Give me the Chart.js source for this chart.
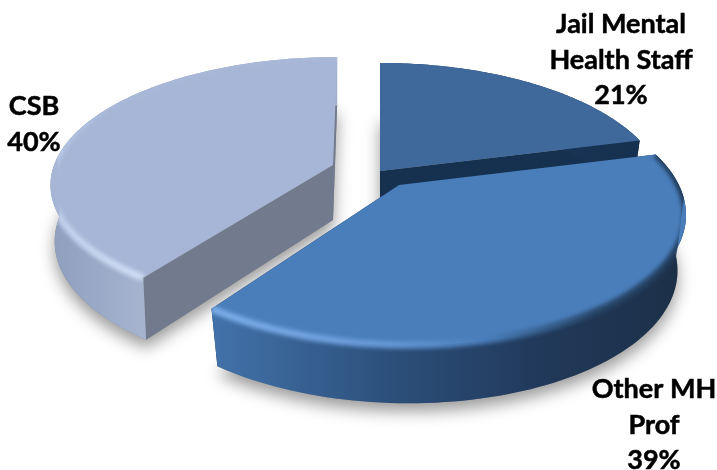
<!DOCTYPE html>
<html>
<head>
<meta charset="utf-8">
<script src="https://cdn.jsdelivr.net/npm/chart.js@4"></script>
<style>
  html, body { margin: 0; padding: 0; background: #fff; }
  #wrap { width: 717px; height: 470px; }
</style>
</head>
<body>
<div id="wrap"><canvas id="graficoStaff"></canvas></div>
<script>
const categories = ['Jail Mental Health Staff', 'Other MH Prof', 'CSB'];
const shares = [21, 39, 40];
const labelLines = [['Jail Mental', 'Health Staff'], ['Other MH', 'Prof'], ['CSB']];

// Label anchors, one per slice (centre x, first baseline y)
const labelSpots = [
  { x: 621, y: 33 },
  { x: 654, y: 398 },
  { x: 34, y: 115 }
];
const lineGap = 35.5;

// How each flat slice is laid back into perspective. dx/dy move the tip away
// from the pie centre, xs/ys scale the radius, q is the foreshortening, skew leans it.
const sliceViews = [
  { dx: 21.5, dy: -64, xs: 1.196, ys: 0.549, q: 0.194, skew: 0, depth: 55, lowX: 0.97, lowY: 1.02 },
  { dx: 40.5, dy: -50, xs: 1.191, ys: 0.549, q: 0.194, skew: 0.034, depth: 55, lowX: 0.97, lowY: 1.02 },
  { dx: -25.5, dy: -70, xs: 1.187, ys: 0.525, q: 0.143, skew: -0.02, depth: 55, lowX: 0.985, lowY: 1.06 }
];

const topColors = ['#3f689b', '#4a7ebb', '#a7b6d6'];
const cutColors = ['#16304f', '#16304f', '#727b8e'];
const wallStops = [
  [[380, '#1c3a5e'], [640, '#16304f']],
  [[213, '#4272aa'], [400, '#2b4e78'], [540, '#21395a'], [686, '#1c2f47']],
  [[50, '#8e9ebd'], [140, '#a5b3cf']]
];
// Bevel along the rim, stops by screen angle around the slice tip (turns, clockwise from east)
const rimStops = [
  null,
  [[0, '#1e3755'], [0.09, '#274668'], [0.17, '#4a7ebb'], [0.25, '#6596d6'], [0.41, '#7fb0ec'], [0.96, '#2a4a74'], [1, '#1e3755']],
  [[0, '#a7b6d6'], [0.41, '#d2dff6'], [0.49, '#bccce9'], [0.54, '#a9b8d8'], [1, '#a9b8d8']]
];

function project(arc, view, angle, lower) {
  const x = arc.outerRadius * Math.cos(angle);
  const y = arc.outerRadius * Math.sin(angle);
  const d = 1 - view.q * Math.sin(angle);
  const xs = lower ? view.xs * view.lowX : view.xs;
  const ys = lower ? view.ys * view.lowY : view.ys;
  return [
    arc.x + view.dx + (xs * x + view.skew * y) / d,
    arc.y + view.dy + (lower ? view.depth : 0) + ys * y / d
  ];
}

function tip(arc, view, lower) {
  return [arc.x + view.dx, arc.y + view.dy + (lower ? view.depth : 0)];
}

function rimPoints(arc, view, lower) {
  const pts = [];
  const steps = 90;
  for (let i = 0; i <= steps; i++) {
    const a = arc.startAngle + (arc.endAngle - arc.startAngle) * i / steps;
    pts.push(project(arc, view, a, lower));
  }
  return pts;
}

function trace(ctx, pts, closed) {
  ctx.beginPath();
  pts.forEach((p, i) => (i ? ctx.lineTo(p[0], p[1]) : ctx.moveTo(p[0], p[1])));
  if (closed) ctx.closePath();
}

// Outline of top face plus wall, walking round the tip
function silhouette(tipTop, top, low) {
  const dist = (p) => Math.hypot(p[0] - tipTop[0], p[1] - tipTop[1]);
  const outer = top.map((p, i) => (dist(low[i]) > dist(p) ? low[i] : p));
  return [tipTop, top[0]].concat(outer, [top[top.length - 1]]);
}

const pie3d = {
  id: 'pie3d',
  // The arcs keep their geometry from the pie controller, only the painting changes
  beforeDatasetDraw(chart) {
    const ctx = chart.ctx;
    const arcs = chart.getDatasetMeta(0).data;

    // soft shadow on the ground under every slice
    arcs.forEach((arc, i) => {
      const view = sliceViews[i];
      ctx.save();
      ctx.shadowColor = 'rgba(0,0,0,0.4)';
      ctx.shadowBlur = 16;
      ctx.shadowOffsetY = 8;
      ctx.fillStyle = '#888';
      trace(ctx, [tip(arc, view, true)].concat(rimPoints(arc, view, true)), true);
      ctx.fill();
      ctx.restore();
    });

    // back to front: Jail, CSB, Other
    [0, 2, 1].forEach((i) => {
      const arc = arcs[i];
      const view = sliceViews[i];
      const top = rimPoints(arc, view, false);
      const low = rimPoints(arc, view, true);
      const tipTop = tip(arc, view, false);
      const tipLow = tip(arc, view, true);

      // cut faces
      ctx.fillStyle = cutColors[i];
      trace(ctx, [tipTop, top[0], low[0], tipLow], true);
      ctx.fill();
      trace(ctx, [tipTop, top[top.length - 1], low[low.length - 1], tipLow], true);
      ctx.fill();

      // outer wall
      const g = ctx.createLinearGradient(0, 0, 717, 0);
      wallStops[i].forEach((s) => g.addColorStop(s[0] / 717, s[1]));
      ctx.fillStyle = g;
      trace(ctx, top.concat(low.slice().reverse()), true);
      ctx.fill();

      // top face
      ctx.fillStyle = topColors[i];
      trace(ctx, [tipTop].concat(top), true);
      ctx.fill();

      // bevel, kept inside the slice outline so the back edge stays crisp
      if (rimStops[i]) {
        const rim = ctx.createConicGradient(0, tipTop[0], tipTop[1]);
        rimStops[i].forEach((s) => rim.addColorStop(s[0], s[1]));
        ctx.save();
        trace(ctx, silhouette(tipTop, top, low), true);
        ctx.clip();
        ctx.filter = 'blur(2px)';
        ctx.strokeStyle = rim;
        ctx.lineWidth = 7;
        trace(ctx, top, false);
        ctx.stroke();
        ctx.restore();
      }
    });
    return false;
  },
  afterDraw(chart) {
    const ctx = chart.ctx;
    ctx.save();
    ctx.font = 'bold 27px Lato';
    ctx.fillStyle = '#000';
    ctx.strokeStyle = '#000';
    ctx.lineWidth = 0.5;
    ctx.textAlign = 'center';
    ctx.textBaseline = 'alphabetic';
    shares.forEach((v, i) => {
      const lines = labelLines[i].concat(v + '%');
      lines.forEach((t, n) => {
        ctx.fillText(t, labelSpots[i].x, labelSpots[i].y + n * lineGap);
        ctx.strokeText(t, labelSpots[i].x, labelSpots[i].y + n * lineGap);
      });
    });
    ctx.restore();
  }
};

new Chart(document.getElementById('graficoStaff').getContext('2d'), {
  type: 'pie',
  data: {
    labels: categories,
    datasets: [{ data: shares, backgroundColor: topColors, borderWidth: 0 }]
  },
  options: {
    responsive: true,
    maintainAspectRatio: false,
    animation: false,
    plugins: { legend: { display: false }, tooltip: { enabled: false } }
  },
  plugins: [pie3d]
});
</script>
</body>
</html>
